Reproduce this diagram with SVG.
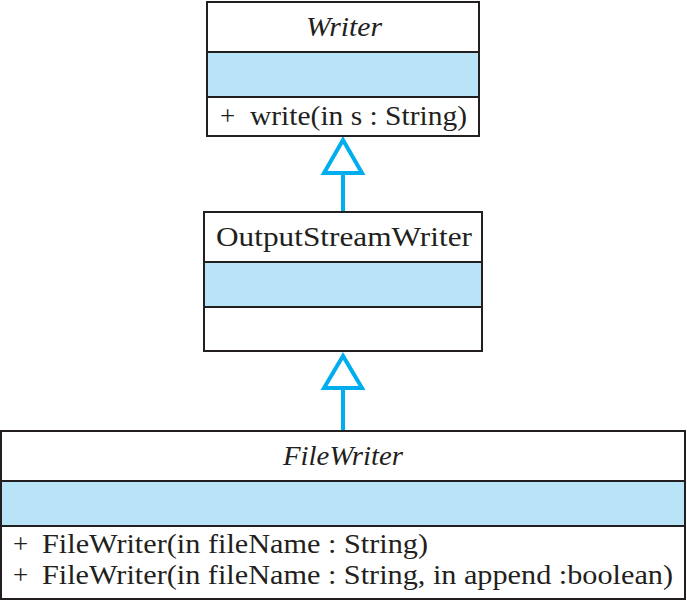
<svg xmlns="http://www.w3.org/2000/svg" width="687" height="600" viewBox="0 0 687 600">
<defs>
<style>
.box{fill:#ffffff;stroke:#231f20;stroke-width:2}
.attr{fill:#b9e4f8;stroke:#231f20;stroke-width:2}
.t{font-family:'Liberation Serif','Times New Roman',Tinos,Times,serif;font-size:27px;fill:#231f20}
.it{font-style:italic}
.conn{stroke:#00aeef;stroke-width:4;fill:none}
.head{fill:#ffffff;stroke:#00aeef;stroke-width:4;stroke-linejoin:miter}
</style>
</defs>
<rect width="687" height="600" fill="#ffffff"/>
<g id="connectors">
<line class="conn" x1="343" y1="173" x2="343" y2="212"/>
<polygon class="head" points="343,140 324,173 362,173"/>
<line class="conn" x1="343" y1="388" x2="343" y2="431"/>
<polygon class="head" points="343,356 324,388 362,388"/>
</g>
<g id="Writer">
<rect class="box" x="207" y="2" width="272" height="50"/>
<rect class="attr" x="207" y="52" width="272" height="45"/>
<rect class="box" x="207" y="97" width="272" height="39"/>
<text class="t it" x="306" y="36" textLength="76" lengthAdjust="spacingAndGlyphs">Writer</text>
<text class="t" x="220" y="125">+</text>
<text class="t" x="250" y="125" textLength="217" lengthAdjust="spacingAndGlyphs">write(in s : String)</text>
</g>
<g id="OutputStreamWriter">
<rect class="box" x="204" y="212" width="278" height="50"/>
<rect class="attr" x="204" y="262" width="278" height="45"/>
<rect class="box" x="204" y="307" width="278" height="44"/>
<text class="t" x="216" y="246" textLength="256" lengthAdjust="spacingAndGlyphs">OutputStreamWriter</text>
</g>
<g id="FileWriter">
<rect class="box" x="1" y="431" width="684" height="50"/>
<rect class="attr" x="1" y="481" width="684" height="45"/>
<rect class="box" x="1" y="526" width="684" height="73"/>
<text class="t it" x="283" y="465" textLength="120" lengthAdjust="spacingAndGlyphs">FileWriter</text>
<text class="t" x="13" y="553">+</text>
<text class="t" x="42" y="553" textLength="386" lengthAdjust="spacingAndGlyphs">FileWriter(in fileName : String)</text>
<text class="t" x="13" y="584">+</text>
<text class="t" x="42" y="584" textLength="631" lengthAdjust="spacingAndGlyphs">FileWriter(in fileName : String, in append :boolean)</text>
</g>
</svg>
